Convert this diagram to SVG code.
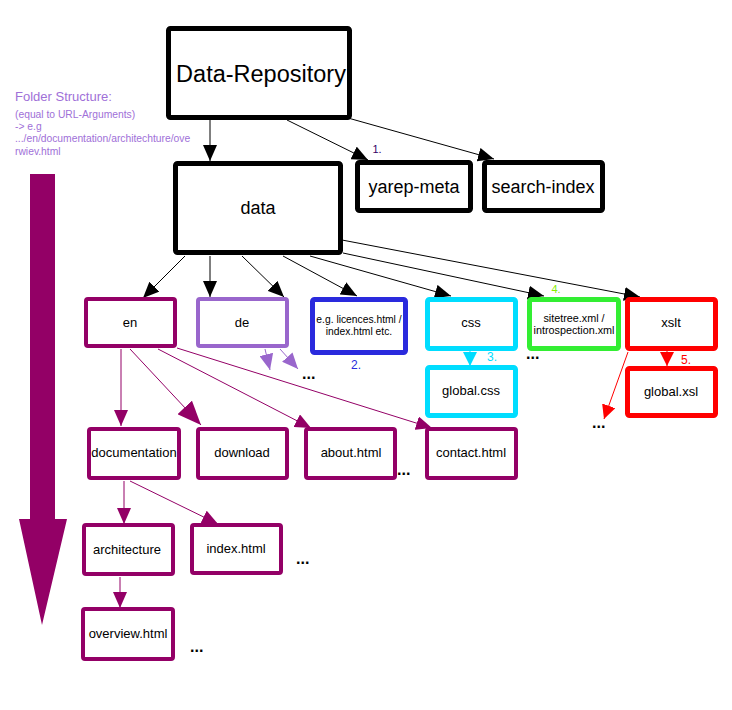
<svg xmlns="http://www.w3.org/2000/svg" width="732" height="710" viewBox="0 0 732 710">
<defs>
<style>
text{font-family:"Liberation Sans",Arial,sans-serif;text-anchor:middle}
.box{fill:#fff;stroke-linejoin:round}
.blk{stroke:#000;stroke-width:5}
.pur{stroke:#930066;stroke-width:4}
.lav{stroke:#9966CC;stroke-width:4}
.c{stroke-width:5}
.ln{fill:none;stroke-width:1}
.lbl{font-size:13px}
.dots{font-size:16px;font-weight:bold;text-anchor:start}
</style>
<marker id="ab" markerUnits="userSpaceOnUse" markerWidth="16" markerHeight="14" refX="16" refY="7" orient="auto"><path d="M0,0L16,7L0,14z" fill="#000"/></marker>
<marker id="ap" markerUnits="userSpaceOnUse" markerWidth="16" markerHeight="14" refX="16" refY="7" orient="auto"><path d="M0,0L16,7L0,14z" fill="#930066"/></marker>
<marker id="apb" markerUnits="userSpaceOnUse" markerWidth="24" markerHeight="20" refX="24" refY="10" orient="auto"><path d="M0,0L24,10L0,20z" fill="#930066"/></marker>
<marker id="al" markerUnits="userSpaceOnUse" markerWidth="16" markerHeight="14" refX="16" refY="7" orient="auto"><path d="M0,0L16,7L0,14z" fill="#9966CC"/></marker>
<marker id="ac" markerUnits="userSpaceOnUse" markerWidth="14" markerHeight="14" refX="14" refY="7" orient="auto"><path d="M0,0L14,7L0,14z" fill="#00DDFF"/></marker>
<marker id="ar" markerUnits="userSpaceOnUse" markerWidth="14" markerHeight="14" refX="14" refY="7" orient="auto"><path d="M0,0L14,7L0,14z" fill="#FF0000"/></marker>
</defs>
<rect width="732" height="710" fill="#fff"/>

<g id="legend">
<text x="15" y="101" style="text-anchor:start;font-size:13px" fill="#A070D8">Folder Structure:</text>
<text style="text-anchor:start;font-size:10.3px" fill="#A070D8"><tspan x="15" y="118">(equal to URL-Arguments)</tspan><tspan x="15" y="130">-&gt; e.g</tspan><tspan x="15" y="142">.../en/documentation/architechture/ove</tspan><tspan x="15" y="155">rwiev.html</tspan></text>
<path d="M30,174H55V519H67L42,625L19,519H30z" fill="#930066"/>
</g>

<g id="connectors">
<line class="ln" stroke="#000" x1="210" y1="120" x2="210" y2="161" marker-end="url(#ab)"/>
<line class="ln" stroke="#000" x1="287" y1="120" x2="368" y2="160" marker-end="url(#ab)"/>
<line class="ln" stroke="#000" x1="348" y1="118" x2="494" y2="159" marker-end="url(#ab)"/>
<line class="ln" stroke="#000" x1="185" y1="256" x2="143" y2="298" marker-end="url(#ab)"/>
<line class="ln" stroke="#000" x1="210" y1="256" x2="210" y2="297" marker-end="url(#ab)"/>
<line class="ln" stroke="#000" x1="242" y1="256" x2="284" y2="297" marker-end="url(#ab)"/>
<line class="ln" stroke="#000" x1="283" y1="256" x2="357" y2="296" marker-end="url(#ab)"/>
<line class="ln" stroke="#000" x1="310" y1="256" x2="451" y2="296" marker-end="url(#ab)"/>
<line class="ln" stroke="#000" x1="343" y1="253" x2="544" y2="296" marker-end="url(#ab)"/>
<line class="ln" stroke="#000" x1="342" y1="240" x2="640" y2="297" marker-end="url(#ab)"/>
<line class="ln" stroke="#9966CC" x1="265" y1="349" x2="270" y2="370" marker-end="url(#al)"/>
<line class="ln" stroke="#9966CC" x1="280" y1="349" x2="298" y2="369" marker-end="url(#al)"/>
<line class="ln" stroke="#00DDFF" stroke-width="2" x1="470" y1="351" x2="470" y2="366" marker-end="url(#ac)"/>
<line class="ln" stroke="#FF0000" stroke-width="2" x1="667" y1="351" x2="667" y2="366" marker-end="url(#ar)"/>
<line class="ln" stroke="#FF0000" x1="628" y1="352" x2="604" y2="419" marker-end="url(#ar)"/>
<line class="ln" stroke="#930066" x1="121" y1="349" x2="121" y2="426" marker-end="url(#ap)"/>
<line class="ln" stroke="#930066" x1="130" y1="349" x2="201" y2="425" marker-end="url(#apb)"/>
<line class="ln" stroke="#930066" x1="158" y1="349" x2="311" y2="428" marker-end="url(#ap)"/>
<line class="ln" stroke="#930066" x1="177" y1="348" x2="432" y2="428" marker-end="url(#ap)"/>
<line class="ln" stroke="#930066" x1="124" y1="481" x2="124" y2="524" marker-end="url(#ap)"/>
<line class="ln" stroke="#930066" x1="130" y1="481" x2="218" y2="524" marker-end="url(#ap)"/>
<line class="ln" stroke="#930066" x1="120" y1="577" x2="120" y2="608" marker-end="url(#ap)"/>
</g>

<g id="n-repo"><rect class="box blk" x="168.5" y="28.5" width="181" height="89" rx="2"/><text x="261" y="82" font-size="23.5">Data-Repository</text></g>
<g id="n-data"><rect class="box blk" x="175.5" y="163.5" width="165" height="89" rx="2"/><text x="258" y="214" font-size="18">data</text></g>
<g id="n-yarep"><rect class="box blk" x="357.5" y="162.5" width="113" height="48" rx="2"/><text x="414" y="193" font-size="18">yarep-meta</text><text x="377" y="153" font-size="11" fill="#330066">1.</text></g>
<g id="n-search"><rect class="box blk" x="484.5" y="162.5" width="118" height="48" rx="2"/><text x="543" y="193" font-size="18">search-index</text></g>

<g id="n-en"><rect class="box pur" x="86" y="299" width="89" height="47" rx="2"/><text class="lbl" x="130" y="327">en</text></g>
<g id="n-de"><rect class="box lav" x="198" y="299" width="89" height="47" rx="2"/><text class="lbl" x="242" y="327">de</text></g>
<g id="n-lic"><rect class="box c" stroke="#2A2ADD" x="312.5" y="299.5" width="93" height="53" rx="2"/><text font-size="10.3"><tspan x="359" y="323">e.g. licences.html /</tspan><tspan x="359" y="335">index.html etc.</tspan></text><text x="356" y="369" font-size="12" fill="#2A2ADD">2.</text></g>
<g id="n-css"><rect class="box c" stroke="#00DDFF" x="427.5" y="299.5" width="88" height="49" rx="2"/><text class="lbl" x="471" y="327">css</text><text x="492" y="361" font-size="12" fill="#00DDFF">3.</text></g>
<g id="n-site"><rect class="box c" stroke="#33EE33" x="529.5" y="299.5" width="89" height="49" rx="2"/><text font-size="10.8"><tspan x="574" y="322">sitetree.xml /</tspan><tspan x="574" y="334">introspection.xml</tspan></text><text x="556" y="293" font-size="11" fill="#88EE00">4.</text></g>
<g id="n-xslt"><rect class="box c" stroke="#FF0000" x="627.5" y="299.5" width="88" height="49" rx="2"/><text class="lbl" x="671" y="327">xslt</text><text x="686" y="364" font-size="12" fill="#FF0000">5.</text></g>
<g id="n-gcss"><rect class="box c" stroke="#00DDFF" x="427.5" y="367.5" width="88" height="48" rx="2"/><text class="lbl" x="471" y="395">global.css</text></g>
<g id="n-gxsl"><rect class="box c" stroke="#FF0000" x="627.5" y="368.5" width="88" height="47" rx="2"/><text class="lbl" x="671" y="396">global.xsl</text></g>

<g id="n-doc"><rect class="box pur" x="89" y="429" width="90" height="49" rx="2"/><text class="lbl" x="134" y="457">documentation</text></g>
<g id="n-down"><rect class="box pur" x="198" y="429" width="89" height="49" rx="2"/><text class="lbl" x="242" y="457">download</text></g>
<g id="n-about"><rect class="box pur" x="306" y="429" width="89" height="49" rx="2"/><text class="lbl" x="351" y="457">about.html</text></g>
<g id="n-contact"><rect class="box pur" x="427" y="429" width="89" height="49" rx="2"/><text class="lbl" x="471" y="457">contact.html</text></g>
<g id="n-arch"><rect class="box pur" x="84" y="525" width="89" height="49" rx="2"/><text class="lbl" x="127" y="554">architecture</text></g>
<g id="n-index"><rect class="box pur" x="192" y="525" width="89" height="48" rx="2"/><text class="lbl" x="236" y="553">index.html</text></g>
<g id="n-over"><rect class="box pur" x="83" y="609" width="90" height="50" rx="2"/><text class="lbl" x="128" y="638">overview.html</text></g>

<g id="ellipses">
<text class="dots" x="302" y="379">...</text>
<text class="dots" x="526" y="359">...</text>
<text class="dots" x="592" y="428">...</text>
<text class="dots" x="397" y="475">...</text>
<text class="dots" x="296" y="564">...</text>
<text class="dots" x="190" y="652">...</text>
</g>
</svg>
